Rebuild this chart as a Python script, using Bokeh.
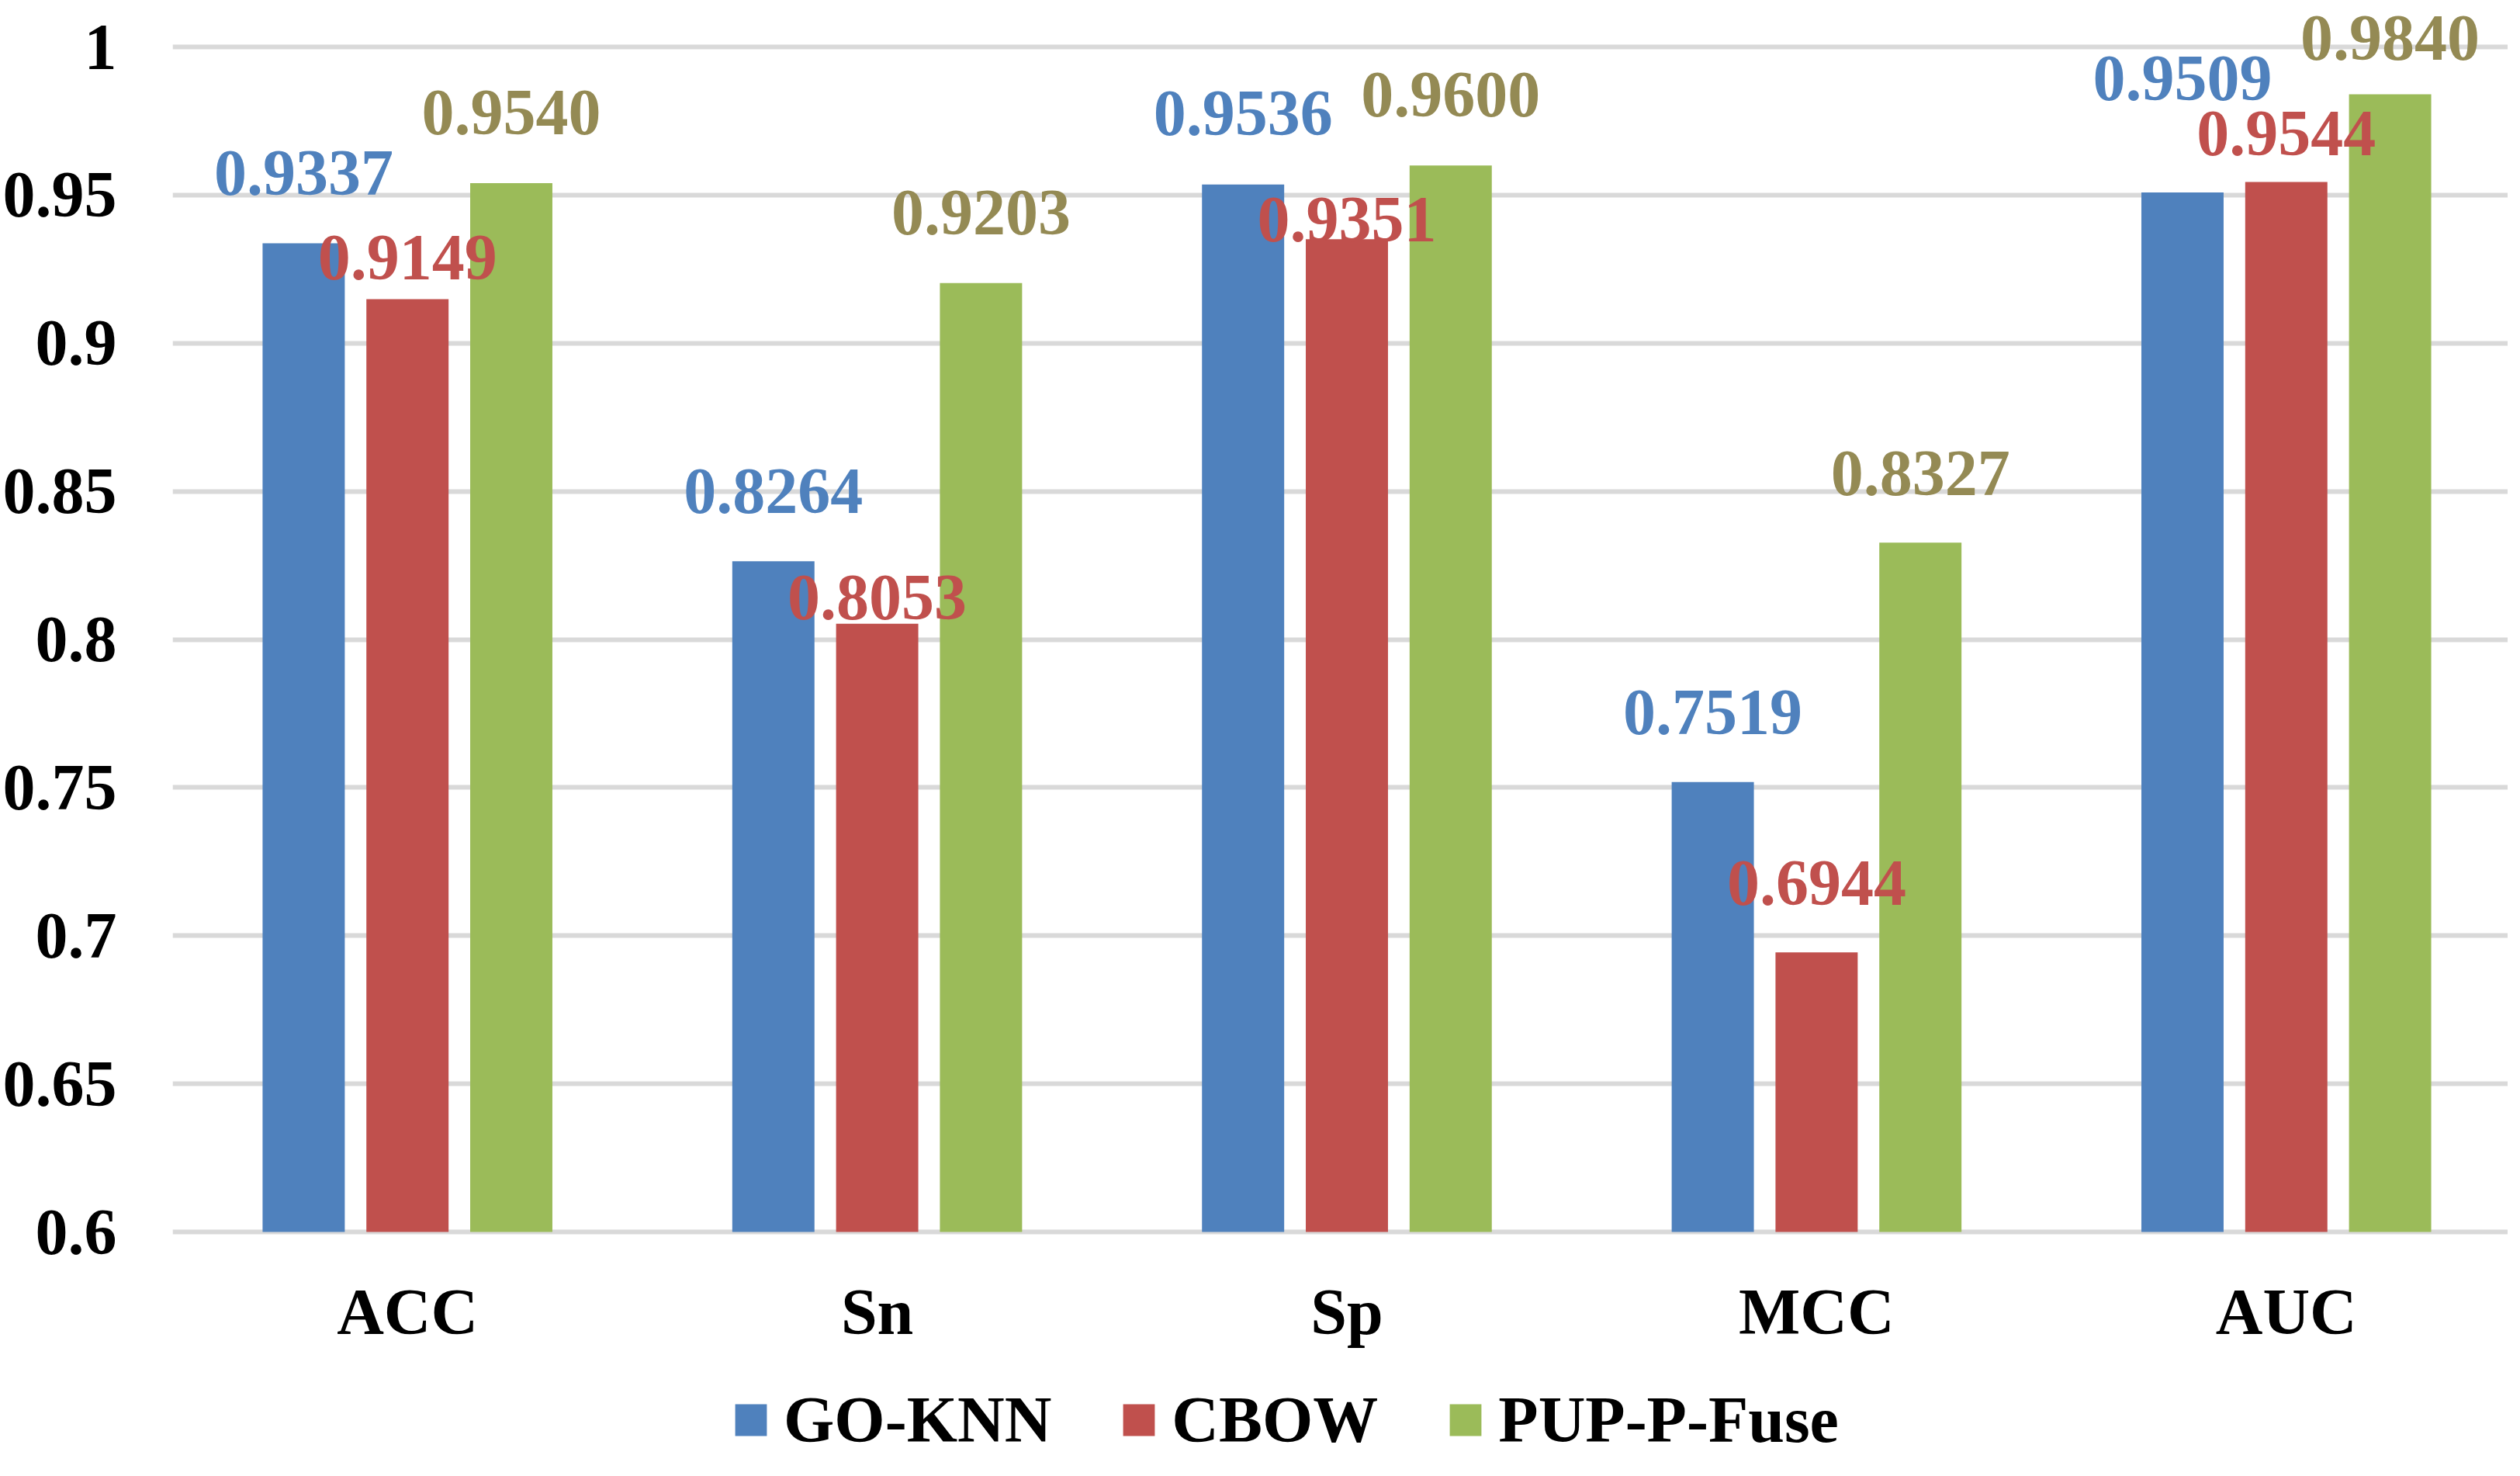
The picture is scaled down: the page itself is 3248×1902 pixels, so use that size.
from bokeh.plotting import figure
from bokeh.models import ColumnDataSource, Range1d, FixedTicker, Legend, LegendItem
from bokeh.core.properties import value
from bokeh.embed import file_html
from bokeh.resources import INLINE

categories = ["ACC", "Sn", "Sp", "MCC", "AUC"]
series_names = ["GO-KNN", "CBOW", "PUP-P-Fuse"]
go_knn = [0.9337, 0.8264, 0.9536, 0.7519, 0.9509]
cbow = [0.9149, 0.8053, 0.9351, 0.6944, 0.9544]
pup_p_fuse = [0.9540, 0.9203, 0.9600, 0.8327, 0.9840]
y_ticks = [0.6, 0.65, 0.7, 0.75, 0.8, 0.85, 0.9, 0.95, 1.0]
y_tick_labels = ["0.6", "0.65", "0.7", "0.75", "0.8", "0.85", "0.9", "0.95", "1"]
AXIS_MIN = 0.6

# gap (px) between bar top and the bottom of its value label, as in the original
go_knn_lift = [62, 61, 63, 61, 118]
cbow_lift = [24, 5, -4, 60, 34]
pup_lift = [62, 62, 62, 60, 44]
BASELINE_FIX = 29
CAT_LABEL_DROP = 103

bar_colors = ["#4F81BD", "#C0504D", "#9BBB59"]
label_colors = ["#4F81BD", "#C0504D", "#948A54"]
offsets = [-0.221, 0.0, 0.221]
BAR_W = 0.175
FONT = value("Liberation Serif")

cat_pos = [i + 0.5 for i in range(len(categories))]

p = figure(width=3232, height=1886,
           x_range=Range1d(0, 3013 / 606.0),
           y_range=Range1d(0.521676, 1.01572),
           output_backend="svg", toolbar_location=None,
           min_border_left=219, min_border_right=0,
           min_border_top=0, min_border_bottom=0)
p.outline_line_color = None
p.background_fill_color = "white"
p.border_fill_color = "white"

p.xgrid.grid_line_color = None
p.ygrid.grid_line_color = "#D9D9D9"
p.ygrid.grid_line_width = 6

p.xaxis.visible = False
p.yaxis.ticker = FixedTicker(ticks=y_ticks)
p.yaxis.major_label_overrides = dict(zip(y_ticks, y_tick_labels))
p.yaxis.axis_line_color = None
p.yaxis.major_tick_line_color = None
p.yaxis.minor_tick_line_color = None
p.yaxis.major_tick_out = 0
p.yaxis.major_label_text_font = "Liberation Serif"
p.yaxis.major_label_text_font_style = "bold"
p.yaxis.major_label_text_color = "black"
p.yaxis.major_label_text_font_size = "84px"
p.yaxis.major_label_standoff = 72

series = [go_knn, cbow, pup_p_fuse]
lifts = [go_knn_lift, cbow_lift, pup_lift]
sources = []
renderers = []
for vals, lift, off, col in zip(series, lifts, offsets, bar_colors):
    src = ColumnDataSource(dict(x=[c + off for c in cat_pos], val=vals,
                                label=["%.4f" % v for v in vals],
                                yoff=[-(l + BASELINE_FIX) for l in lift]))
    sources.append(src)
    r = p.vbar(x="x", top="val", bottom=AXIS_MIN, width=BAR_W, source=src,
               fill_color=col, line_color=None)
    renderers.append(r)

for src, lcol in zip(sources, label_colors):
    p.text(x="x", y="val", text="label", y_offset="yoff", source=src,
           text_align="center", text_baseline="alphabetic", text_font=FONT,
           text_font_style="bold", text_font_size="84px", text_color=lcol)

# category labels under the axis baseline
cat_src = ColumnDataSource(dict(x=cat_pos, y=[AXIS_MIN] * len(categories), t=categories))
p.text(x="x", y="y", text="t", y_offset=CAT_LABEL_DROP, source=cat_src,
       text_align="center", text_baseline="alphabetic", text_font=FONT,
       text_font_style="bold", text_font_size="84px", text_color="black")

legend = Legend(items=[LegendItem(label=n, renderers=[r]) for n, r in zip(series_names, renderers)],
                orientation="horizontal", location=(720, 8),
                glyph_width=51, glyph_height=51, label_standoff=17, spacing=87,
                padding=0, margin=0, border_line_color=None,
                background_fill_alpha=0,
                label_text_font="Liberation Serif", label_text_font_style="bold",
                label_text_font_size="84px", label_text_color="black")
p.add_layout(legend)

open("out.html", "w").write(file_html(p, INLINE))
